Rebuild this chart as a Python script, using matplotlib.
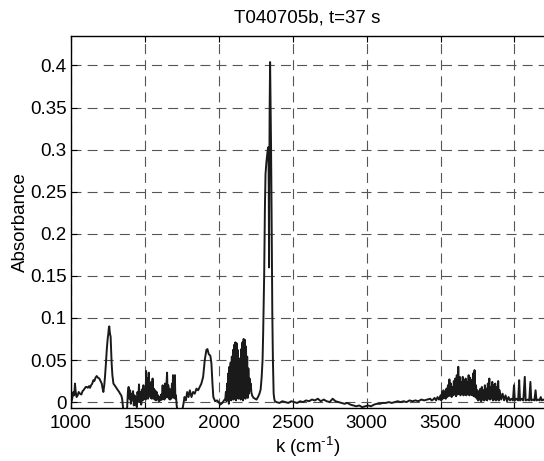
#!/usr/bin/env python3
"""Absorbance spectrum T040705b, t=37 s (MATLAB-style figure)."""

import numpy as np
import matplotlib

matplotlib.use("Agg")
import matplotlib.pyplot as plt

plt.rcParams["font.family"] = ["Liberation Sans", "DejaVu Sans"]
plt.rcParams["mathtext.default"] = "regular"
plt.rcParams["axes.unicode_minus"] = False

# ---------------------------------------------------------------------------
# spectrum (k in cm^-1, absorbance)
# ---------------------------------------------------------------------------
k_low = [1000, 1008, 1016, 1022, 1027, 1032, 1038, 1045, 1052, 1061, 1070, 1078,
         1084, 1092, 1100, 1106, 1114, 1122, 1129, 1136, 1144, 1151, 1158, 1166,
         1174, 1182, 1192, 1200, 1208, 1214, 1219, 1225, 1230, 1236, 1242, 1248,
         1253, 1256, 1259, 1262, 1265, 1268, 1272, 1275, 1280, 1287, 1295, 1303,
         1310, 1318, 1326, 1332, 1340, 1346, 1350, 1356, 1362, 1372]
a_low = [-0.002, 0.004, 0.012, 0.008, 0.022, 0.012, 0.006, 0.008, 0.012, 0.010,
         0.009, 0.013, 0.014, 0.016, 0.018, 0.018, 0.017, 0.019, 0.017, 0.020,
         0.022, 0.026, 0.025, 0.029, 0.031, 0.029, 0.028, 0.025, 0.022, 0.016,
         0.012, 0.020, 0.030, 0.045, 0.062, 0.075, 0.082, 0.088, 0.090, 0.084,
         0.080, 0.078, 0.060, 0.046, 0.032, 0.022, 0.020, 0.018, 0.016, 0.014,
         0.012, 0.010, 0.008, 0.004, -0.003, -0.012, -0.020, -0.018]

# noisy stretch 1380-1760
k_noise = [1380, 1385, 1390, 1395, 1400, 1405, 1410, 1415, 1420, 1425, 1430, 1435,
           1440, 1445, 1450, 1455, 1460, 1465, 1470, 1475, 1480, 1485, 1490, 1495,
           1500, 1505, 1508, 1512, 1517, 1521, 1526, 1530, 1535, 1539, 1543, 1547,
           1552, 1556, 1560, 1565, 1570, 1575, 1580, 1585, 1590, 1595, 1600, 1605,
           1610, 1615, 1620, 1624, 1628, 1632, 1636, 1640, 1645, 1650, 1654, 1658,
           1662, 1666, 1670, 1674, 1678, 1683, 1687, 1690, 1694, 1698, 1703, 1706,
           1710, 1715, 1720, 1728, 1748]
a_noise = [-0.006, 0.012, 0.018, 0.004, 0.014, -0.002, 0.010, 0.002, 0.013, -0.004,
           0.008, -0.003, 0.006, -0.006, 0.012, 0.001, 0.021, 0.000, 0.012, -0.003,
           0.015, 0.002, 0.020, 0.004, 0.014, 0.003, 0.037, 0.006, 0.028, 0.004,
           0.035, 0.008, 0.020, 0.005, 0.024, 0.004, 0.028, 0.006, 0.016, 0.003,
           0.014, 0.002, 0.012, 0.003, 0.008, 0.001, 0.006, 0.002, 0.009, 0.003,
           0.020, 0.004, 0.016, 0.003, 0.022, 0.005, 0.018, 0.035, 0.006, 0.020,
           0.004, 0.016, 0.003, 0.012, 0.004, 0.022, 0.006, 0.032, 0.005, 0.018,
           0.032, 0.004, 0.008, -0.004, -0.010, -0.014, -0.014]

k_mid = [1759, 1768, 1777, 1786, 1795, 1804, 1815, 1826, 1837, 1849, 1860, 1871,
         1882, 1894, 1905, 1916, 1923, 1932, 1943, 1950, 1957, 1963, 1975, 1988,
         1999, 2010, 2024, 2035]
a_mid = [-0.004, 0.006, 0.002, 0.012, 0.006, 0.014, 0.006, 0.012, 0.010, 0.016,
         0.014, 0.018, 0.022, 0.030, 0.050, 0.062, 0.063, 0.057, 0.055, 0.046,
         0.022, 0.006, 0.001, 0.002, 0.000, -0.003, -0.001, 0.002]

# dense band 2040-2220 (unresolved rotational lines)
k_band = [2044, 2048, 2052, 2056, 2060, 2064, 2068, 2072, 2076, 2080, 2084, 2088,
          2092, 2096, 2100, 2104, 2108, 2112, 2116, 2120, 2124, 2128, 2132, 2136,
          2140, 2144, 2148, 2152, 2156, 2160, 2164, 2168, 2172, 2176, 2180, 2184,
          2188, 2192, 2196, 2200, 2204, 2208, 2212, 2216, 2220]
a_band = [0.004, 0.012, 0.001, 0.022, 0.003, 0.034, -0.002, 0.042, 0.004, 0.047,
          0.002, 0.054, 0.006, 0.062, 0.003, 0.068, 0.005, 0.071, 0.002, 0.070,
          0.007, 0.062, 0.004, 0.052, 0.008, 0.050, 0.003, 0.063, 0.006, 0.071,
          0.002, 0.075, 0.005, 0.074, 0.004, 0.066, 0.007, 0.054, 0.005, 0.040,
          0.010, 0.028, 0.014, 0.022, 0.012]

# main peak
k_peak = [2225, 2235, 2245, 2255, 2265, 2275, 2283, 2290, 2296, 2300, 2304, 2307,
          2310, 2312, 2316, 2322, 2328, 2333, 2336, 2338, 2340, 2342, 2344, 2347,
          2350, 2353, 2356, 2359, 2362, 2366, 2371, 2376, 2380]
a_peak = [0.008, 0.005, 0.004, 0.003, 0.006, 0.010, 0.015, 0.030, 0.050, 0.081,
          0.120, 0.152, 0.200, 0.232, 0.271, 0.285, 0.295, 0.302, 0.303, 0.250,
          0.160, 0.280, 0.350, 0.404, 0.360, 0.311, 0.250, 0.170, 0.105, 0.050,
          0.010, 0.003, 0.001]

# flat baseline
k_base = [2390, 2410, 2430, 2450, 2470, 2490, 2510, 2530, 2550, 2570, 2590, 2610,
          2630, 2650, 2670, 2690, 2710, 2730, 2750, 2770, 2790, 2810, 2830, 2850,
          2870, 2890, 2910, 2930, 2950, 2970, 2990, 3010, 3030, 3050, 3070, 3090,
          3110, 3130, 3150, 3170, 3190, 3210, 3230, 3250, 3270, 3290, 3310, 3330,
          3350, 3370, 3390, 3410, 3430, 3440]
a_base = [0.000, -0.001, 0.001, 0.000, -0.001, 0.001, 0.000, -0.001, 0.001, 0.000,
          0.002, 0.001, 0.003, 0.002, 0.004, 0.001, 0.003, 0.001, 0.000, 0.004,
          0.001, 0.000, -0.001, -0.002, -0.001, -0.003, -0.004, -0.005, -0.004,
          -0.006, -0.005, -0.004, -0.005, -0.003, -0.002, -0.002, -0.001, -0.001,
          0.000, -0.001, 0.000, 0.001, 0.000, 0.001, 0.000, 0.002, 0.001, 0.002,
          0.001, 0.003, 0.002, 0.003, 0.004, 0.002]

# water-vapour lines 3450-4200
k_high = [3450, 3460, 3470, 3480, 3490, 3500, 3505, 3510, 3515, 3520, 3525, 3530,
          3535, 3540, 3545, 3550, 3555, 3560, 3565, 3570, 3575, 3580, 3585, 3590,
          3595, 3600, 3605, 3610, 3615, 3620, 3625, 3630, 3635, 3640, 3645, 3650,
          3655, 3660, 3665, 3670, 3675, 3680, 3685, 3690, 3695, 3700, 3705, 3710,
          3715, 3720, 3725, 3730, 3735, 3740, 3745, 3750, 3755, 3760, 3765, 3770,
          3775, 3780, 3785, 3790, 3795, 3800, 3805, 3810, 3815, 3820, 3825, 3830,
          3835, 3840, 3845, 3850, 3855, 3860, 3865, 3870, 3875, 3880, 3885, 3890,
          3895, 3900, 3910, 3920, 3930, 3940, 3950, 3960, 3970, 3980, 3990, 3997,
          4003, 4015, 4025, 4032, 4038, 4050, 4060, 4070, 4076, 4090, 4100, 4108,
          4114, 4125, 4135, 4143, 4149, 4160, 4170, 4178, 4185, 4195, 4205]
a_high = [0.003, 0.005, 0.002, 0.006, 0.003, 0.008, 0.002, 0.012, 0.004, 0.014,
          0.005, 0.011, 0.004, 0.016, 0.006, 0.020, 0.007, 0.027, 0.008, 0.022,
          0.006, 0.018, 0.008, 0.025, 0.009, 0.028, 0.007, 0.032, 0.009, 0.042,
          0.010, 0.030, 0.008, 0.024, 0.010, 0.030, 0.008, 0.026, 0.009, 0.028,
          0.008, 0.024, 0.010, 0.032, 0.008, 0.029, 0.009, 0.026, 0.008, 0.034,
          0.007, 0.038, 0.006, 0.020, 0.004, 0.014, 0.002, 0.012, 0.003, 0.016,
          0.001, 0.018, 0.003, 0.014, 0.002, 0.020, 0.003, 0.016, 0.002, 0.022,
          0.004, 0.028, 0.003, 0.018, 0.004, 0.024, 0.002, 0.020, 0.003, 0.022,
          0.002, 0.018, 0.003, 0.025, 0.002, 0.014, 0.003, 0.010, 0.002, 0.008,
          0.001, 0.006, 0.002, 0.004, 0.002, 0.020, 0.002, 0.004, 0.002, 0.026,
          0.002, 0.004, 0.002, 0.030, 0.002, 0.003, 0.002, 0.024, 0.002, 0.003,
          0.002, 0.014, 0.002, 0.003, 0.002, 0.006, 0.002, 0.003, 0.002]

x_ticks = [1000, 1500, 2000, 2500, 3000, 3500, 4000]
y_ticks = [0, 0.05, 0.1, 0.15, 0.2, 0.25, 0.3, 0.35, 0.4]
y_ticklabels = ["0", "0.05", "0.1", "0.15", "0.2", "0.25", "0.3", "0.35", "0.4"]

# ---------------------------------------------------------------------------
# plot
# ---------------------------------------------------------------------------
k = np.concatenate([k_low, k_noise, k_mid, k_band, k_peak, k_base, k_high])
absorb = np.concatenate([a_low, a_noise, a_mid, a_band, a_peak, a_base, a_high])

fig = plt.figure(figsize=(5.44, 4.61), dpi=100)
ax = fig.add_axes([0.1305, 0.115, 0.8695, 0.807])

ax.plot(k, absorb, color="#1a1a1a", linewidth=1.4)

ax.set_xlim(1000, 4200)
ax.set_ylim(-0.007, 0.435)
ax.set_xticks(x_ticks)
ax.set_yticks(y_ticks)
ax.set_yticklabels(y_ticklabels)
ax.grid(True, color="#555555", linestyle="--", linewidth=0.8, dashes=(9, 5.5))
ax.set_axisbelow(True)
ax.tick_params(direction="in", length=4, width=0.8, labelsize=13.5,
               top=True, pad=5)
ax.tick_params(axis="y", pad=3)
ax.spines["right"].set_visible(False)
for side in ("left", "top", "bottom"):
    ax.spines[side].set_linewidth(1.0)

ax.set_title("T040705b, t=37 s", fontsize=13.5, pad=10)
# hyphen (U+2010) keeps the MATLAB look of the exponent instead of a minus
ax.set_xlabel("k (cm$^{\u20101}$)", fontsize=13.5, labelpad=2)
ax.set_ylabel("Absorbance", fontsize=13.5, labelpad=1)

fig.savefig("out.png", dpi=100)
